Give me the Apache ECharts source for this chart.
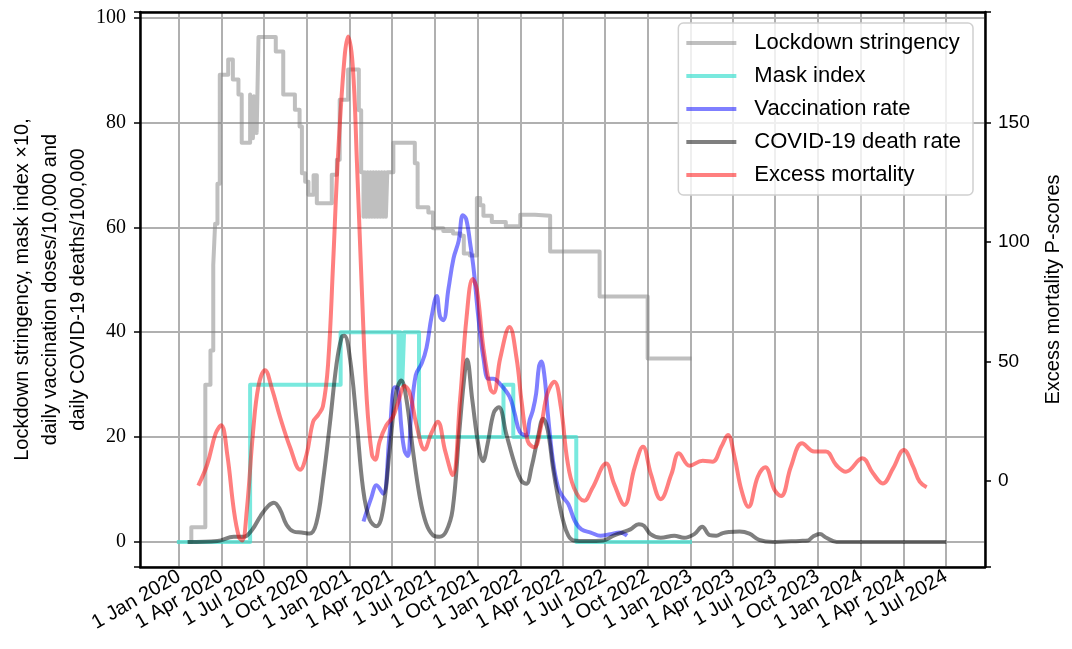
<!DOCTYPE html>
<html>
<head>
<meta charset="utf-8">
<title>Lockdown, masks, vaccination and mortality</title>
<script src="https://cdn.jsdelivr.net/npm/echarts@6/dist/echarts.min.js"></script>
<style>
html, body { margin: 0; padding: 0; background: #fff; }
#chart { width: 1072px; height: 649px; }
</style>
</head>
<body>
<div id="chart"></div>
<script>
// ---- data (date, value) ----
var stringency = [
  ['2020-01-21', 0], ['2020-01-27', 2.8], ['2020-02-26', 30], ['2020-03-08', 36.5],
  ['2020-03-14', 52.8], ['2020-03-18', 60.7], ['2020-03-23', 68.3], ['2020-03-28', 89.1],
  ['2020-04-15', 92], ['2020-04-25', 88.2], ['2020-05-07', 85.3], ['2020-05-14', 76.1],
  ['2020-06-01', 85.3], ['2020-06-03', 77], ['2020-06-05', 84], ['2020-06-07', 77],
  ['2020-06-09', 85], ['2020-06-11', 78], ['2020-06-13', 84], ['2020-06-15', 78],
  ['2020-06-19', 96.3], ['2020-07-26', 93.5], ['2020-08-11', 85.3], ['2020-09-05', 82.4],
  ['2020-09-15', 79.2], ['2020-09-20', 70.3], ['2020-09-27', 68.7], ['2020-10-04', 66.2],
  ['2020-10-15', 69.9], ['2020-10-22', 64.6], ['2020-11-23', 70], ['2020-12-04', 72.9],
  ['2020-12-10', 84.3], ['2020-12-28', 90.1], ['2021-01-20', 82.3], ['2021-01-25', 70.5],
  ['2021-01-30', 62], ['2021-02-02', 70.5], ['2021-02-05', 62], ['2021-02-08', 70.5],
  ['2021-02-11', 62], ['2021-02-14', 70.5], ['2021-02-17', 62], ['2021-02-20', 70.5],
  ['2021-02-23', 62], ['2021-02-26', 70.5], ['2021-03-01', 62], ['2021-03-04', 70.5],
  ['2021-03-07', 62], ['2021-03-10', 70.5], ['2021-03-13', 62], ['2021-03-16', 70.5],
  ['2021-03-19', 62], ['2021-03-22', 70.5], ['2021-04-04', 76.1], ['2021-05-20', 72.2],
  ['2021-05-26', 63.8], ['2021-06-18', 62.8], ['2021-06-28', 59.8], ['2021-07-20', 59.3],
  ['2021-08-10', 58.8], ['2021-08-26', 58.4], ['2021-09-02', 55], ['2021-09-15', 54.6],
  ['2021-09-30', 65.6], ['2021-10-07', 64.2], ['2021-10-14', 62.2], ['2021-11-01', 61],
  ['2021-12-01', 60.2], ['2022-01-01', 62.4], ['2022-02-01', 62.2], ['2022-03-06', 55.4],
  ['2022-06-20', 46.8], ['2022-10-01', 35], ['2023-01-03', 35]
];

var maskIndex = [
  ['2019-12-27', 0], ['2020-06-01', 30], ['2020-12-12', 40], ['2021-04-15', 30],
  ['2021-04-19', 40], ['2021-04-23', 30], ['2021-04-27', 40], ['2021-05-29', 20],
  ['2021-11-26', 30], ['2021-12-17', 20], ['2022-05-01', 0], ['2023-01-04', 0]
];

var vaccination = [
  ['2021-01-30', 3.9], ['2021-02-16', 8.5], ['2021-02-27', 10.8], ['2021-03-13', 9.2],
  ['2021-03-27', 20.7], ['2021-04-07', 29.5], ['2021-04-14', 29.2], ['2021-04-21', 22],
  ['2021-04-28', 17.4], ['2021-05-05', 16.4], ['2021-05-12', 24], ['2021-05-22', 31.8],
  ['2021-06-04', 34.1], ['2021-06-14', 37], ['2021-06-25', 43], ['2021-07-06', 46.9],
  ['2021-07-13', 43], ['2021-07-20', 42.3], ['2021-07-31', 48.2], ['2021-08-11', 54.1],
  ['2021-08-22', 57.4], ['2021-08-31', 62.3], ['2021-09-07', 61.6], ['2021-09-16', 56.7],
  ['2021-09-23', 52.1], ['2021-10-03', 43], ['2021-10-14', 35.1], ['2021-10-25', 31.1],
  ['2021-11-04', 31.1], ['2021-11-18', 30.2], ['2021-12-09', 27.7], ['2021-12-20', 24.5],
  ['2021-12-31', 21], ['2022-01-14', 20.3], ['2022-01-21', 23.2], ['2022-01-28', 25.1],
  ['2022-02-04', 28.3], ['2022-02-10', 33.4], ['2022-02-15', 34.4], ['2022-02-22', 31.5],
  ['2022-03-01', 24.5], ['2022-03-12', 15.5], ['2022-03-23', 10.4], ['2022-04-03', 8.5],
  ['2022-04-14', 7.2], ['2022-04-28', 4.0], ['2022-05-12', 2.4], ['2022-06-01', 1.8],
  ['2022-06-22', 1.2], ['2022-07-13', 1.5], ['2022-08-03', 1.8], ['2022-08-18', 1.2]
];

var deathRate = [
  ['2020-01-19', 0], ['2020-03-23', 0.2], ['2020-04-27', 1.0], ['2020-05-18', 1.0],
  ['2020-06-05', 2.3], ['2020-06-23', 4.9], ['2020-07-10', 6.9], ['2020-07-22', 7.5],
  ['2020-08-04', 6.2], ['2020-08-18', 3.3], ['2020-09-02', 2.0], ['2020-09-19', 1.8],
  ['2020-10-07', 1.6], ['2020-10-21', 3.6], ['2020-11-04', 11.5], ['2020-11-19', 22.6],
  ['2020-12-03', 33.8], ['2020-12-14', 39], ['2020-12-20', 39.3], ['2021-01-01', 35],
  ['2021-01-15', 23.3], ['2021-01-29', 10.2], ['2021-02-12', 4.3], ['2021-02-27', 3],
  ['2021-03-13', 6.2], ['2021-03-27', 17.4], ['2021-04-10', 28.5], ['2021-04-21', 30.8],
  ['2021-05-02', 27.2], ['2021-05-16', 17.4], ['2021-05-30', 8.9], ['2021-06-13', 3.6],
  ['2021-06-28', 1.3], ['2021-07-12', 1.0], ['2021-07-26', 2.0], ['2021-08-09', 6.2],
  ['2021-08-23', 20.7], ['2021-09-02', 30.5], ['2021-09-09', 34.8], ['2021-09-20', 27.2],
  ['2021-10-04', 18], ['2021-10-13', 15.4], ['2021-10-23', 18.7], ['2021-11-05', 24.6],
  ['2021-11-16', 25.7], ['2021-12-02', 20.6], ['2021-12-20', 14.9], ['2022-01-03', 11.7],
  ['2022-01-14', 11.1], ['2022-01-25', 14.2], ['2022-02-08', 20], ['2022-02-19', 23.5],
  ['2022-03-01', 21.3], ['2022-03-12', 14.2], ['2022-03-23', 8.5], ['2022-04-03', 4],
  ['2022-04-14', 1.2], ['2022-04-25', 0.3], ['2022-05-23', 0.2], ['2022-06-28', 0.3],
  ['2022-07-20', 1.2], ['2022-08-07', 1.8], ['2022-08-25', 2.4], ['2022-09-12', 3.4],
  ['2022-09-23', 3.1], ['2022-10-07', 1.5], ['2022-10-29', 0.8], ['2022-11-27', 1.2],
  ['2022-12-18', 0.8], ['2023-01-09', 1.5], ['2023-01-26', 2.9], ['2023-02-11', 1.3],
  ['2023-02-25', 1.2], ['2023-03-11', 1.7], ['2023-03-25', 1.9], ['2023-04-16', 2.0],
  ['2023-05-07', 1.6], ['2023-05-28', 0.4], ['2023-06-26', 0], ['2023-07-25', 0.1],
  ['2023-08-23', 0.2], ['2023-09-10', 0.3], ['2023-09-20', 1.0], ['2023-10-05', 1.5],
  ['2023-10-19', 0.8], ['2023-11-10', 0], ['2024-07-02', 0]
];

var excessMortality = [
  ['2020-02-11', -1.9], ['2020-03-01', 6.9], ['2020-03-19', 19.8], ['2020-03-31', 23.3],
  ['2020-04-13', 11.1], ['2020-04-27', -12], ['2020-05-08', -23.4], ['2020-05-15', -24.9],
  ['2020-05-25', -12], ['2020-06-07', 19.8], ['2020-06-19', 39.8], ['2020-07-03', 46.4],
  ['2020-07-18', 38.5], ['2020-08-04', 26.9], ['2020-08-26', 13.9], ['2020-09-16', 4.7],
  ['2020-09-30', 11.1], ['2020-10-14', 24.8], ['2020-10-25', 27.7], ['2020-11-04', 31.2],
  ['2020-11-15', 48.6], ['2020-11-26', 91.6], ['2020-12-06', 134.8], ['2020-12-20', 176.5],
  ['2020-12-28', 186], ['2021-01-07', 173.6], ['2021-01-16', 133], ['2021-01-27', 77.3],
  ['2021-02-06', 34.1], ['2021-02-17', 11.1], ['2021-02-24', 8.9], ['2021-03-06', 16.8],
  ['2021-03-20', 23.3], ['2021-04-03', 26.9], ['2021-04-14', 32.8], ['2021-04-28', 39.8],
  ['2021-05-09', 36.9], ['2021-05-23', 24], ['2021-06-10', 13.2], ['2021-06-24', 19.8],
  ['2021-07-08', 24.8], ['2021-07-24', 12.6], ['2021-08-09', 2.5], ['2021-08-25', 34.1],
  ['2021-09-08', 68.7], ['2021-09-21', 84.5], ['2021-09-30', 80.2], ['2021-10-14', 55.6],
  ['2021-10-29', 38.5], ['2021-11-05', 36.9], ['2021-11-19', 51.4], ['2021-12-09', 64.5],
  ['2021-12-24', 51.4], ['2022-01-04', 33], ['2022-01-17', 16.7], ['2022-01-31', 14.1],
  ['2022-02-14', 22.5], ['2022-02-28', 36.5], ['2022-03-15', 41.5], ['2022-03-29', 31],
  ['2022-04-12', 8.4], ['2022-04-26', -2.8], ['2022-05-18', -8.3], ['2022-06-05', -2.8],
  ['2022-07-04', 7.3], ['2022-07-21', -1.2], ['2022-08-12', -10], ['2022-09-03', 5.6],
  ['2022-09-21', 14.3], ['2022-10-08', 2.9], ['2022-10-29', -7.6], ['2022-11-21', 2.9],
  ['2022-12-07', 11.6], ['2022-12-30', 6.4], ['2023-01-27', 8.5], ['2023-02-17', 8.1],
  ['2023-03-08', 14.4], ['2023-03-22', 19.3], ['2023-04-05', 10.2], ['2023-04-20', -3.8],
  ['2023-05-05', -10.8], ['2023-05-25', 1.8], ['2023-06-10', 5.7], ['2023-06-30', -3.8],
  ['2023-07-14', -6.3], ['2023-08-04', 6.0], ['2023-08-28', 15.8], ['2023-09-23', 12.3],
  ['2023-10-18', 12.3], ['2023-11-09', 6.7], ['2023-11-30', 3.9], ['2024-01-04', 9.5],
  ['2024-01-27', 3.2], ['2024-02-17', -1], ['2024-03-10', 5.3], ['2024-04-02', 13],
  ['2024-04-22', 6.0], ['2024-05-06', -0.3], ['2024-05-21', -2.6]
];

var seriesNames = ['Lockdown stringency', 'Mask index', 'Vaccination rate',
  'COVID-19 death rate', 'Excess mortality'];
var monthNames = ['Jan', 'Feb', 'Mar', 'Apr', 'May', 'Jun', 'Jul', 'Aug', 'Sep', 'Oct', 'Nov', 'Dec'];

var SANS = 'Liberation Sans';
var SERIF = 'Liberation Serif';
var QUARTER = 92 * 24 * 3600 * 1000;
var X_MIN = '2019-10-09', X_MAX = '2024-09-23';

function lineSeries(name, data, color, extra) {
  var s = {
    name: name, type: 'line', data: data, symbol: 'none',
    lineStyle: { color: color, width: 4, join: 'round' },
    itemStyle: { color: color },
    emphasis: { disabled: true }
  };
  for (var k in extra) s[k] = extra[k];
  return s;
}

var frameLine = { show: true, onZero: false, lineStyle: { color: '#000', width: 2.5 } };

var chart = echarts.init(document.getElementById('chart'));
chart.setOption({
  animation: false,
  backgroundColor: '#fff',
  grid: {
    left: 140, right: 87, top: 12, bottom: 82,
    containLabel: false, outerBoundsMode: 'none'
  },
  legend: {
    orient: 'vertical', right: 99, top: 23,
    data: seriesNames,
    selectedMode: false,
    icon: 'rect',
    itemWidth: 50, itemHeight: 4, itemGap: 9,
    padding: [8, 12, 8, 8],
    backgroundColor: 'rgba(255,255,255,0.8)',
    borderColor: '#d0d0d0', borderWidth: 1.5, borderRadius: 5,
    textStyle: { fontFamily: SANS, fontSize: 22, color: '#000', lineHeight: 24, padding: [0, 0, 0, 13] }
  },
  xAxis: [
    {
      type: 'time', position: 'bottom',
      min: X_MIN, max: X_MAX,
      minInterval: QUARTER, maxInterval: QUARTER,
      axisLine: frameLine,
      axisTick: { show: false },
      splitLine: { show: true, lineStyle: { color: '#b0b0b0', width: 2 } },
      axisLabel: {
        rotate: 30, margin: 8, color: '#000', fontFamily: SANS, fontSize: 20,
        hideOverlap: false,
        formatter: function (value) {
          var d = new Date(value);
          if (d.getDate() !== 1 || d.getHours() !== 0 || d.getMonth() % 3 !== 0) return '';
          return '1 ' + monthNames[d.getMonth()] + ' ' + d.getFullYear();
        }
      }
    },
    {
      // top frame edge only
      type: 'time', position: 'top', min: X_MIN, max: X_MAX,
      axisLine: frameLine, axisTick: { show: false }, axisLabel: { show: false },
      splitLine: { show: false }
    }
  ],
  yAxis: [
    {
      type: 'value', position: 'left', min: -4.77, max: 101.05, splitNumber: 5,
      axisLine: frameLine,
      axisTick: { show: true, length: 6, lineStyle: { color: '#000', width: 1.5 } },
      splitLine: { show: true, lineStyle: { color: '#b0b0b0', width: 2 } },
      axisLabel: {
        margin: 14, color: '#000', fontFamily: SERIF, fontSize: 20,
        formatter: function (v) { return Math.abs(v % 20) < 1e-6 ? String(v) : ''; }
      },
      name: 'Lockdown stringency, mask index \u00d710,\ndaily vaccination doses/10,000 and\ndaily COVID-19 deaths/100,000',
      nameLocation: 'middle', nameRotate: 90, nameGap: 48, nameMoveOverlap: false,
      nameTextStyle: { fontFamily: SANS, fontSize: 20, lineHeight: 28, color: '#000', align: 'center' }
    },
    {
      type: 'value', position: 'right', min: -36, max: 196.3, splitNumber: 5,
      axisLine: frameLine,
      axisTick: { show: true, length: 6, lineStyle: { color: '#000', width: 1.5 } },
      splitLine: { show: false },
      axisLabel: {
        margin: 13, color: '#000', fontFamily: SANS, fontSize: 19,
        formatter: function (v) { return Math.abs(v % 50) < 1e-6 ? String(v) : ''; }
      },
      name: 'Excess mortality P-scores',
      nameLocation: 'middle', nameRotate: 90, nameGap: 58,
      nameTextStyle: { fontFamily: SANS, fontSize: 20, color: '#000' }
    }
  ],
  series: [
    lineSeries(seriesNames[0], stringency, 'rgba(128,128,128,0.5)', { step: 'end', yAxisIndex: 0 }),
    lineSeries(seriesNames[1], maskIndex, 'rgba(64,224,208,0.7)', { step: 'end', yAxisIndex: 0 }),
    lineSeries(seriesNames[2], vaccination, 'rgba(0,0,255,0.5)', { smooth: 0.4, yAxisIndex: 0 }),
    lineSeries(seriesNames[3], deathRate, 'rgba(0,0,0,0.5)', { smooth: 0.4, yAxisIndex: 0 }),
    lineSeries(seriesNames[4], excessMortality, 'rgba(255,0,0,0.5)', { smooth: 0.4, yAxisIndex: 1 })
  ]
});
</script>
</body>
</html>
